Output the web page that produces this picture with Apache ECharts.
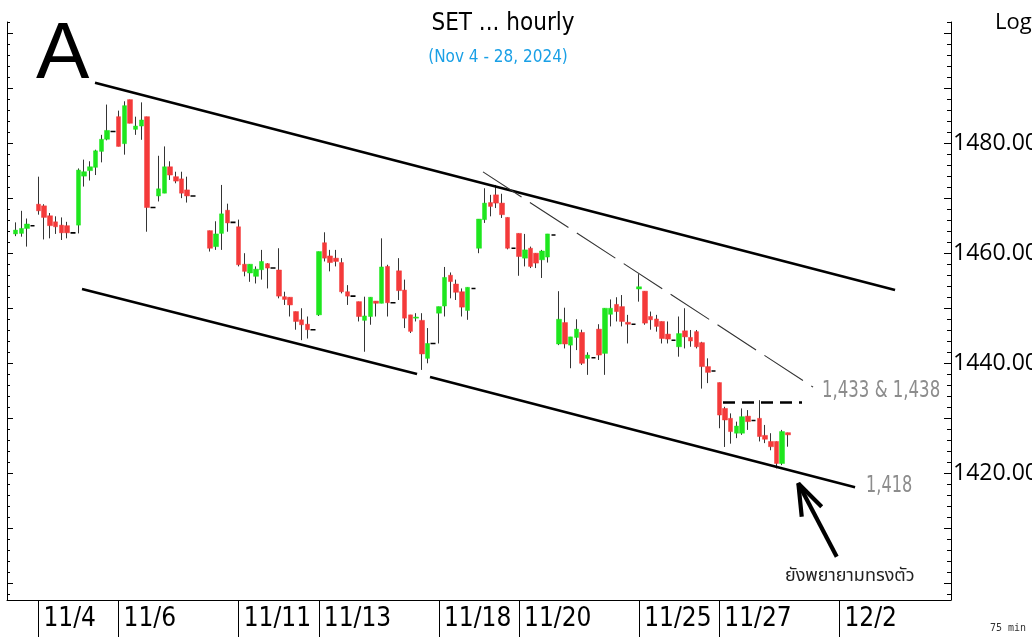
<!DOCTYPE html>
<html>
<head>
<meta charset="utf-8">
<script src="https://cdn.jsdelivr.net/npm/echarts@6/dist/echarts.min.js"></script>
<style>
html,body{margin:0;padding:0;background:#fff;}
#chart{width:1032px;height:637px;}
</style>
</head>
<body>
<div id="chart"></div>
<script>
// ---------------- data ----------------
const tradingDays = ['11/1','11/4','11/5','11/6','11/7','11/8','11/11','11/12','11/13','11/14','11/15',
  '11/18','11/19','11/20','11/21','11/22','11/25','11/26','11/27','11/28','11/29','12/2','12/3','12/4'];
const tickLabels = ['11/4','11/6','11/11','11/13','11/18','11/20','11/25','11/27','12/2'];
const yLabelValues = [1420, 1440, 1460, 1480];

// [open, close, low, high] per 75-min slot (null = no bar)
const candles = [
  null,
  [1463.5,1464.2,1463.1,1465.6],[1463.6,1464.5,1463.0,1467.7],[1464.5,1465.3,1461.2,1466.3],[1465.0,1465.0,1465.0,1465.0],
  // 11/4
  [1468.9,1467.7,1467.0,1473.9],[1468.6,1466.5,1462.5,1468.9],[1466.8,1465.0,1462.7,1467.3],[1465.7,1464.8,1463.5,1466.7],
  [1465.1,1463.7,1462.4,1466.5],[1465.0,1463.7,1462.7,1465.7],[1463.7,1463.7,1463.7,1463.7],
  // 11/5
  [1465.1,1475.1,1463.6,1475.4],[1474.0,1474.8,1472.1,1477.0],[1475.0,1475.7,1473.2,1476.7],[1475.6,1478.6,1474.2,1478.8],
  [1478.5,1480.7,1476.5,1481.5],[1480.7,1482.3,1480.5,1487.0],[1482.1,1482.1,1482.1,1482.1],
  // 11/6
  [1484.8,1479.4,1479.4,1485.9],[1479.9,1486.8,1477.9,1487.6],[1487.9,1483.6,1483.6,1487.9],[1482.5,1483.1,1481.5,1484.8],
  [1483.1,1484.2,1480.6,1487.4],[1484.8,1468.3,1463.9,1484.8],[1468.3,1468.3,1468.3,1468.3],
  // 11/7
  [1470.4,1471.7,1469.4,1477.7],[1470.9,1475.7,1470.9,1479.4],[1475.7,1474.2,1473.3,1476.7],[1473.9,1473.1,1472.7,1474.8],
  [1473.5,1470.9,1470.0,1474.8],[1471.5,1470.4,1469.2,1473.9],[1470.4,1470.4,1470.4,1470.4],
  // 11/8
  null, null,
  [1464.1,1460.9,1460.3,1464.1],[1461.2,1463.5,1460.6,1465.8],[1463.6,1467.15,1460.6,1472.4],[1467.8,1465.5,1463.9,1469.0],
  [1465.6,1465.6,1465.6,1465.6],
  // 11/11
  [1464.8,1457.9,1457.6,1466.1],[1458.0,1456.7,1455.8,1460.0],[1456.4,1458.0,1454.8,1458.0],[1455.8,1457.1,1454.5,1457.6],
  [1457.0,1458.5,1455.2,1460.6],[1458.1,1457.3,1453.6,1458.2],[1457.3,1457.3,1457.3,1457.3],
  // 11/12
  [1456.95,1452.2,1451.8,1460.9],[1452.1,1451.6,1450.6,1453.0],[1452.0,1450.6,1448.5,1452.0],[1449.4,1447.6,1446.1,1449.4],
  [1447.9,1447.0,1444.2,1450.0],[1447.1,1446.1,1444.5,1448.5],[1446.1,1446.1,1446.1,1446.1],
  // 11/13
  [1448.8,1460.3,1448.6,1460.3],[1461.9,1459.1,1458.5,1463.8],[1459.5,1458.3,1456.7,1460.6],[1459.1,1458.5,1457.6,1460.6],
  [1458.3,1453.0,1452.7,1459.1],[1453.0,1452.2,1450.6,1454.2],[1452.2,1452.2,1452.2,1452.2],
  // 11/14
  [1451.2,1448.5,1447.6,1451.2],[1447.8,1448.6,1442.1,1452.1],[1448.5,1452.0,1447.0,1452.0],[1451.3,1450.9,1448.5,1451.3],
  [1450.9,1457.5,1450.9,1462.7],[1457.6,1451.0,1448.5,1457.9],[1451.0,1451.0,1451.0,1451.0],
  // 11/15
  [1456.8,1453.2,1451.5,1459.1],[1453.3,1448.2,1446.4,1455.2],[1448.8,1445.8,1445.5,1448.8],[1448.2,1448.4,1447.6,1449.1],
  [1447.8,1441.7,1438.8,1449.1],[1440.9,1443.6,1440.0,1446.4],[1443.6,1443.6,1443.6,1443.6],
  // 11/18
  [1449.1,1450.3,1443.6,1450.3],[1450.4,1455.6,1448.5,1457.5],[1456.0,1454.85,1451.8,1456.5],[1454.4,1452.9,1451.5,1455.2],
  [1453.0,1450.2,1448.5,1453.6],[1449.6,1453.8,1447.9,1453.8],[1453.6,1453.6,1453.6,1453.6],
  // 11/19
  [1460.9,1466.2,1460.0,1466.2],[1466.1,1469.1,1465.5,1471.8],[1469.2,1468.5,1466.7,1470.6],[1470.6,1469.1,1468.2,1472.4],
  [1469.1,1467.0,1466.4,1470.8],[1466.5,1460.9,1460.7,1466.5],[1460.9,1460.9,1460.9,1460.9],
  // 11/20
  [1463.6,1459.4,1455.9,1463.6],[1459.1,1460.6,1457.6,1463.5],[1460.9,1457.6,1457.3,1461.2],[1460.0,1458.2,1457.3,1460.0],
  [1458.8,1460.4,1455.5,1460.6],[1459.3,1463.5,1458.3,1463.5],[1463.3,1463.3,1463.3,1463.3],
  // 11/21
  [1443.5,1448.0,1443.3,1453.1],[1447.4,1443.5,1442.7,1450.1],[1443.3,1444.8,1439.1,1444.8],[1444.7,1446.2,1442.4,1448.0],
  [1445.6,1440.0,1439.7,1446.1],[1440.9,1441.5,1437.9,1442.0],[1441.0,1441.0,1441.0,1441.0],
  // 11/22
  [1446.2,1441.5,1440.6,1447.1],[1441.8,1450.0,1437.9,1450.0],[1448.9,1450.0,1446.7,1451.6],[1450.7,1449.4,1447.6,1452.0],
  [1450.3,1447.6,1446.7,1452.4],[1447.45,1447.1,1443.6,1448.8],[1447.1,1447.1,1447.1,1447.1],
  // 11/25
  [1453.5,1453.9,1451.2,1456.2],[1453.1,1447.3,1447.0,1453.1],[1448.5,1447.9,1446.1,1449.4],[1448.05,1446.7,1445.75,1448.8],
  [1447.6,1444.5,1443.6,1447.6],[1445.3,1444.4,1443.6,1447.6],[1444.2,1444.2,1444.2,1444.2],
  // 11/26
  [1443.0,1445.4,1441.2,1448.5],[1445.9,1444.8,1442.7,1450.0],[1444.7,1444.05,1443.0,1446.05],[1445.75,1443.0,1442.7,1446.05],
  [1443.75,1439.4,1435.4,1443.9],[1439.4,1438.35,1436.4,1440.9],[1438.6,1438.6,1438.6,1438.6],
  // 11/27
  [1436.5,1430.6,1428.2,1436.5],[1431.8,1429.7,1424.8,1432.1],[1430.0,1427.6,1425.4,1430.9],[1427.3,1428.6,1426.4,1429.4],
  [1427.3,1430.3,1427.0,1431.8],[1430.4,1429.4,1427.9,1431.5],[1429.6,1429.6,1429.6,1429.6],
  // 11/28
  [1430.0,1426.7,1425.8,1433.3],[1426.9,1426.2,1425.5,1428.8],[1425.8,1424.85,1424.2,1427.3],[1425.8,1421.8,1420.9,1425.8],
  [1421.8,1427.6,1421.5,1427.9],[1427.4,1427.0,1424.85,1427.4]
];

// annotations in [slot, value]
const upperChannel  = [[14.88,1490.96],[154.72,1453.33]];
const lowerChannelA = [[12.61,1453.51],[71.17,1438.05]];
const lowerChannelB = [[73.44,1437.5],[147.73,1417.5]];
const trendLine     = [[82.7,1474.78],[140.39,1435.67]];
const resistance    = [[124.65,1432.87],[138.46,1432.87]];
const arrowShaft    = [[144.53,1404.84],[137.82,1418.18]];
const arrowHead     = [[138.41,1412.11],[137.82,1418.18],[141.9,1413.93]];

// ---------------- build ----------------
const SLOTS = 165, SKIP = 2, BARS_PER_DAY = 7;
const allSlots = [];
tradingDays.forEach(d => { for (let k = 0; k < BARS_PER_DAY; k++) allSlots.push(d + ' #' + (k + 1)); });
const categories = allSlots.slice(SKIP, SKIP + SLOTS);
const labeled = new Set();
categories.forEach((c, i) => {
  const [d, n] = c.split(' ');
  if (n === '#1' && tickLabels.includes(d)) labeled.add(i);
});

const GREEN = '#1ee61e', RED = '#f43a3a';
const wickData = [], bodyData = [];
for (let i = 0; i < SLOTS; i++) {
  const c = candles[i];
  if (!c) { wickData.push('-'); bodyData.push('-'); continue; }
  wickData.push(c);
  const lo = Math.min(c[0], c[1]), hi = Math.max(c[0], c[1]);
  if (c[0] === c[1]) {
    bodyData.push({ value: [c[0], c[1], lo, hi],
      itemStyle: { color: '#000', color0: '#000', borderColor: '#000', borderColor0: '#000', borderWidth: 1.6 } });
  } else {
    bodyData.push([c[0], c[1], lo, hi]);
  }
}

const YMIN = 1397, YMAX = 1502;
const minorTicks = [], majorTicks = [];
for (let v = 1398; v <= YMAX; v += 2) minorTicks.push(v);
for (let v = 1400; v <= YMAX; v += 10) majorTicks.push(v);

const NARROW = "'Liberation Sans Narrow','Arial Narrow','DejaVu Sans Condensed',sans-serif";

function tickAxis(pos, ticks, len, showLine, labels) {
  return {
    type: 'value', position: pos, min: YMIN, max: YMAX, gridIndex: 0, offset: 0,
    axisLine: { show: showLine, onZero: false, lineStyle: { color: '#000', width: 1 } },
    axisTick: { show: true, inside: true, length: len, customValues: ticks, lineStyle: { color: '#000', width: 1 } },
    axisLabel: labels ? {
      show: true, customValues: yLabelValues, formatter: v => Number(v).toFixed(2),
      color: '#000', fontSize: 23, fontFamily: "'Open Sans','Noto Sans',sans-serif", margin: 2
    } : { show: false },
    splitLine: { show: false }
  };
}

function lineSeries(data, width, type, color) {
  return {
    type: 'line', xAxisIndex: 1, yAxisIndex: 0, data: data, symbol: 'none', silent: true,
    lineStyle: { color: color || '#000', width: width, type: type || 'solid', cap: 'butt' },
    z: 5, animation: false
  };
}

const option = {
  animation: false,
  backgroundColor: '#fff',
  grid: { left: 7, right: 81, top: 22, bottom: 37, containLabel: false, outerBoundsMode: 'none' },
  xAxis: [
    {
      type: 'category', data: categories, position: 'bottom', boundaryGap: true,
      axisLine: { show: true, onZero: false, lineStyle: { color: '#000', width: 1 } },
      axisTick: { show: true, alignWithLabel: true, interval: (i) => labeled.has(i), length: 37, lineStyle: { color: '#000', width: 1 } },
      axisLabel: {
        show: true, interval: (i) => labeled.has(i), formatter: v => v.split(' ')[0],
        align: 'left', padding: [0, 0, 0, 5], margin: 6,
        fontSize: 26, color: '#000', fontFamily: NARROW
      },
      splitLine: { show: false }
    },
    { type: 'value', min: -0.5, max: SLOTS - 0.5, show: false, position: 'top' }
  ],
  yAxis: [
    tickAxis('right', minorTicks, 4, true, true),
    tickAxis('right', majorTicks, 7, false, false),
    tickAxis('left', minorTicks, 3, true, false),
    tickAxis('left', majorTicks, 6, false, false)
  ],
  series: [
    {
      type: 'candlestick', xAxisIndex: 0, yAxisIndex: 0, data: wickData, barWidth: 1, silent: true,
      itemStyle: { color: '#000', color0: '#000', borderColor: '#000', borderColor0: '#000', borderColorDoji: '#000', borderWidth: 0.8 },
      emphasis: { disabled: true }
    },
    {
      type: 'candlestick', xAxisIndex: 0, yAxisIndex: 0, data: bodyData, barWidth: 5, silent: true,
      itemStyle: { color: GREEN, color0: RED, borderColor: GREEN, borderColor0: RED, borderColorDoji: '#000', borderWidth: 0.5 },
      emphasis: { disabled: true }
    },
    lineSeries(upperChannel, 2.6),
    lineSeries(lowerChannelA, 2.6),
    lineSeries(lowerChannelB, 2.6),
    lineSeries(trendLine, 1.1, [46, 10], '#333'),
    lineSeries(resistance, 2.4, [12, 7]),
    lineSeries(arrowShaft, 4.2),
    lineSeries(arrowHead, 4.2)
  ],
  graphic: [
    { type: 'text', left: 36, top: 16, style: { text: 'A', font: "80px 'Liberation Sans', Arial, sans-serif", fill: '#000' } },
    { type: 'text', x: 503, y: 24, style: { text: 'SET ... hourly', font: "24px " + NARROW, fill: '#000', textAlign: 'center', textVerticalAlign: 'middle' } },
    { type: 'text', x: 498, y: 58, style: { text: '(Nov 4 - 28, 2024)', font: "17px " + NARROW, fill: '#1aa0e6', textAlign: 'center', textVerticalAlign: 'middle' } },
    { type: 'text', x: 995, y: 23, style: { text: 'Log', font: "22px 'Open Sans','Noto Sans',sans-serif", fill: '#000', textAlign: 'left', textVerticalAlign: 'middle' } },
    { type: 'text', x: 822, y: 391, scaleX: 0.8, style: { text: '1,433 & 1,438', font: "23px " + NARROW, fill: '#8c8c8c', textAlign: 'left', textVerticalAlign: 'middle' } },
    { type: 'text', x: 866, y: 486, scaleX: 0.78, style: { text: '1,418', font: "23px " + NARROW, fill: '#8c8c8c', textAlign: 'left', textVerticalAlign: 'middle' } },
    { type: 'text', x: 785, y: 577, style: { text: 'ยังพยายามทรงตัว', font: "18px 'Noto Sans Thai','Loma','Garuda','Tahoma',sans-serif", fill: '#222', textAlign: 'left', textVerticalAlign: 'middle' } },
    { type: 'text', x: 990, y: 628, style: { text: '75 min', font: "10px 'DejaVu Sans Mono','Liberation Mono',monospace", fill: '#333', textAlign: 'left', textVerticalAlign: 'middle' } }
  ]
};

const chart = echarts.init(document.getElementById('chart'), null, { renderer: 'canvas' });
chart.setOption(option);
</script>
</body>
</html>
